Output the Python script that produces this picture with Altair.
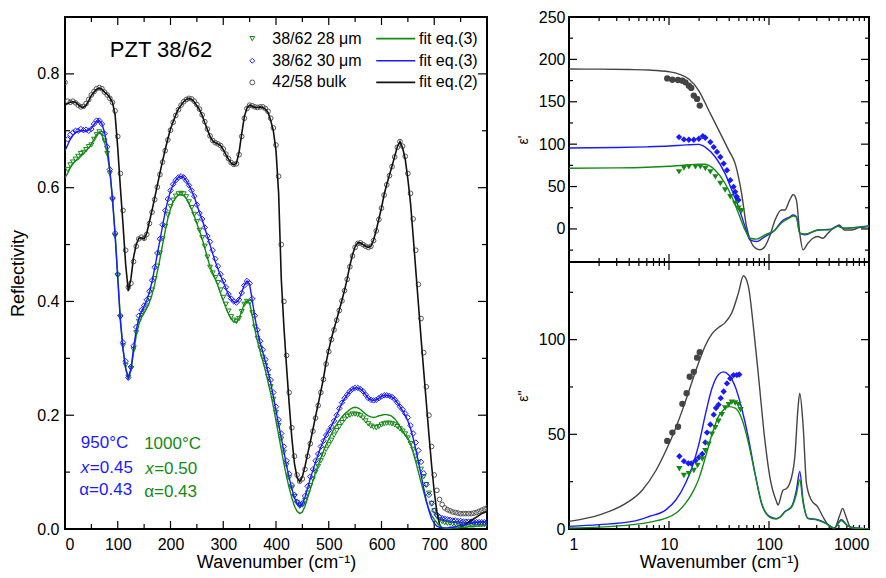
import altair as alt
import pandas as pd

FONT = "Liberation Sans"
GREEN = "#138a13"
BLUE = "#1a1aff"
GREYPT = "#555555"
BLACK = "#111111"
RBLACK = "#444444"

# ---------------- Left panel: reflectivity ----------------
WN_BULK_MEAS = list(range(0, 801, 5))
WN_FILM_MEAS = list(range(5, 801, 5))
WN_FIT = list(range(0, 801, 5))

R_BULK_MEAS = [
    0.785, 0.752, 0.750, 0.752, 0.749, 0.745, 0.742, 0.743, 0.748, 0.755,
    0.763, 0.769, 0.774, 0.776, 0.774, 0.768, 0.763, 0.757, 0.750, 0.735,
    0.690, 0.625, 0.560, 0.490, 0.425, 0.432, 0.470, 0.497, 0.510, 0.513,
    0.511, 0.518, 0.537, 0.557, 0.579, 0.601, 0.623, 0.645, 0.665, 0.684,
    0.701, 0.715, 0.727, 0.737, 0.745, 0.751, 0.755, 0.757, 0.756, 0.752,
    0.746, 0.738, 0.728, 0.716, 0.703, 0.691, 0.683, 0.679, 0.677, 0.674,
    0.668, 0.659, 0.651, 0.644, 0.641, 0.642, 0.658, 0.690, 0.722, 0.739,
    0.745, 0.744, 0.742, 0.741, 0.742, 0.742, 0.739, 0.734, 0.722, 0.705,
    0.675, 0.620, 0.500, 0.400, 0.305, 0.240, 0.178, 0.128, 0.095, 0.084,
    0.088, 0.105, 0.128, 0.150, 0.172, 0.195, 0.217, 0.240, 0.263, 0.290,
    0.312, 0.333, 0.350, 0.367, 0.384, 0.401, 0.419, 0.439, 0.461, 0.480,
    0.495, 0.502, 0.503, 0.500, 0.497, 0.495, 0.497, 0.507, 0.524, 0.544,
    0.564, 0.587, 0.605, 0.621, 0.637, 0.654, 0.671, 0.681, 0.673, 0.655,
    0.625, 0.590, 0.545, 0.490, 0.430, 0.370, 0.310, 0.250, 0.200, 0.145,
    0.095, 0.068, 0.052, 0.043, 0.037, 0.034, 0.032, 0.030, 0.029, 0.028,
    0.027, 0.027, 0.027, 0.027, 0.027, 0.028, 0.029, 0.031, 0.033, 0.035,
    0.037]

R_BULK_FIT = [
    0.745, 0.748, 0.750, 0.751, 0.750, 0.746, 0.742, 0.741, 0.745, 0.753,
    0.762, 0.768, 0.773, 0.775, 0.773, 0.768, 0.764, 0.758, 0.750, 0.728,
    0.670, 0.600, 0.535, 0.465, 0.418, 0.440, 0.478, 0.500, 0.511, 0.512,
    0.510, 0.520, 0.540, 0.560, 0.582, 0.604, 0.626, 0.647, 0.667, 0.686,
    0.703, 0.716, 0.728, 0.738, 0.745, 0.751, 0.755, 0.757, 0.755, 0.751,
    0.744, 0.737, 0.727, 0.714, 0.702, 0.690, 0.682, 0.679, 0.677, 0.674,
    0.667, 0.658, 0.650, 0.643, 0.640, 0.643, 0.662, 0.695, 0.725, 0.740,
    0.745, 0.743, 0.741, 0.741, 0.742, 0.741, 0.738, 0.732, 0.718, 0.700,
    0.665, 0.590, 0.440, 0.355, 0.285, 0.220, 0.160, 0.115, 0.090, 0.083,
    0.092, 0.110, 0.132, 0.153, 0.175, 0.198, 0.220, 0.242, 0.265, 0.293,
    0.315, 0.335, 0.352, 0.368, 0.385, 0.402, 0.420, 0.440, 0.463, 0.482,
    0.496, 0.503, 0.503, 0.500, 0.497, 0.495, 0.497, 0.508, 0.525, 0.545,
    0.565, 0.588, 0.606, 0.622, 0.638, 0.655, 0.672, 0.681, 0.670, 0.650,
    0.615, 0.573, 0.515, 0.455, 0.395, 0.335, 0.278, 0.222, 0.165, 0.112,
    0.065, 0.030, 0.008, 0.000, 0.000, 0.000, 0.000, 0.000, 0.000, 0.000,
    0.003, 0.006, 0.009, 0.012, 0.015, 0.018, 0.021, 0.024, 0.027, 0.029,
    0.031]

R_30_MEAS = [
    0.685, 0.693, 0.697, 0.700, 0.700, 0.703, 0.701, 0.702, 0.700, 0.703,
    0.712, 0.718, 0.718, 0.712, 0.695, 0.672, 0.632, 0.582, 0.520, 0.448,
    0.375, 0.328, 0.295, 0.266, 0.285, 0.322, 0.355, 0.375, 0.385, 0.393,
    0.403, 0.418, 0.437, 0.460, 0.485, 0.510, 0.535, 0.560, 0.580, 0.595,
    0.606, 0.613, 0.618, 0.620, 0.618, 0.612, 0.604, 0.595, 0.585, 0.570,
    0.555, 0.545, 0.530, 0.515, 0.505, 0.490, 0.475, 0.462, 0.448, 0.436,
    0.425, 0.413, 0.405, 0.400, 0.398, 0.403, 0.415, 0.428, 0.436, 0.432,
    0.405, 0.375, 0.350, 0.330, 0.315, 0.298, 0.280, 0.262, 0.240, 0.215,
    0.192, 0.168, 0.145, 0.120, 0.097, 0.077, 0.060, 0.048, 0.042, 0.045,
    0.058, 0.075, 0.092, 0.105, 0.120, 0.132, 0.145, 0.155, 0.165, 0.173,
    0.180, 0.190, 0.200, 0.212, 0.222, 0.230, 0.236, 0.242, 0.246, 0.248,
    0.248, 0.246, 0.242, 0.236, 0.230, 0.227, 0.226, 0.227, 0.230, 0.233,
    0.235, 0.235, 0.234, 0.232, 0.228, 0.222, 0.215, 0.210, 0.203, 0.196,
    0.182, 0.168, 0.152, 0.138, 0.118, 0.098, 0.078, 0.060, 0.045, 0.032,
    0.025, 0.021, 0.019, 0.018, 0.017, 0.016, 0.015, 0.015, 0.014, 0.014,
    0.013, 0.013, 0.013, 0.013, 0.012, 0.012, 0.012, 0.012, 0.012, 0.012]

R_30_FIT = [
    0.665, 0.675, 0.685, 0.692, 0.697, 0.699, 0.700, 0.700, 0.700, 0.701,
    0.704, 0.711, 0.717, 0.718, 0.712, 0.697, 0.672, 0.632, 0.580, 0.515,
    0.440, 0.365, 0.315, 0.282, 0.266, 0.282, 0.318, 0.350, 0.370, 0.382,
    0.392, 0.402, 0.416, 0.435, 0.458, 0.483, 0.508, 0.533, 0.558, 0.578,
    0.594, 0.605, 0.613, 0.618, 0.620, 0.618, 0.612, 0.604, 0.595, 0.584,
    0.570, 0.556, 0.544, 0.529, 0.514, 0.499, 0.484, 0.470, 0.457, 0.445,
    0.434, 0.423, 0.412, 0.404, 0.399, 0.398, 0.404, 0.416, 0.429, 0.436,
    0.430, 0.402, 0.372, 0.347, 0.327, 0.311, 0.294, 0.276, 0.256, 0.233,
    0.208, 0.184, 0.160, 0.136, 0.112, 0.090, 0.071, 0.055, 0.045, 0.040,
    0.044, 0.056, 0.072, 0.089, 0.103, 0.118, 0.131, 0.144, 0.155, 0.165,
    0.173, 0.181, 0.190, 0.200, 0.211, 0.221, 0.229, 0.236, 0.242, 0.246,
    0.248, 0.248, 0.246, 0.242, 0.236, 0.230, 0.227, 0.226, 0.227, 0.230,
    0.233, 0.235, 0.235, 0.234, 0.232, 0.228, 0.222, 0.215, 0.208, 0.200,
    0.190, 0.177, 0.160, 0.140, 0.118, 0.095, 0.072, 0.050, 0.032, 0.018,
    0.010, 0.005, 0.003, 0.002, 0.002, 0.002, 0.003, 0.003, 0.004, 0.005,
    0.006, 0.007, 0.008, 0.009, 0.010, 0.011, 0.012, 0.012, 0.013, 0.013,
    0.013]

R_28_MEAS = [
    0.632, 0.640, 0.645, 0.650, 0.655, 0.660, 0.662, 0.667, 0.672, 0.675,
    0.685, 0.693, 0.698, 0.695, 0.682, 0.660, 0.625, 0.578, 0.515, 0.445,
    0.372, 0.322, 0.288, 0.267, 0.282, 0.315, 0.345, 0.365, 0.375, 0.383,
    0.392, 0.405, 0.420, 0.440, 0.462, 0.485, 0.510, 0.532, 0.552, 0.567,
    0.578, 0.585, 0.589, 0.590, 0.589, 0.584, 0.575, 0.565, 0.553, 0.540,
    0.525, 0.512, 0.497, 0.478, 0.460, 0.450, 0.442, 0.433, 0.420, 0.407,
    0.395, 0.383, 0.373, 0.367, 0.365, 0.370, 0.382, 0.395, 0.400, 0.398,
    0.380, 0.355, 0.335, 0.318, 0.302, 0.287, 0.268, 0.250, 0.228, 0.205,
    0.182, 0.158, 0.135, 0.112, 0.090, 0.072, 0.057, 0.046, 0.040, 0.042,
    0.050, 0.063, 0.076, 0.088, 0.100, 0.110, 0.120, 0.130, 0.140, 0.148,
    0.156, 0.165, 0.173, 0.180, 0.187, 0.193, 0.198, 0.200, 0.202, 0.202,
    0.201, 0.199, 0.195, 0.190, 0.185, 0.181, 0.179, 0.178, 0.180, 0.183,
    0.185, 0.186, 0.186, 0.185, 0.183, 0.180, 0.176, 0.172, 0.167, 0.160,
    0.150, 0.140, 0.128, 0.117, 0.105, 0.092, 0.078, 0.063, 0.045, 0.032,
    0.022, 0.016, 0.013, 0.011, 0.010, 0.010, 0.009, 0.009, 0.009, 0.008,
    0.008, 0.008, 0.008, 0.008, 0.008, 0.008, 0.008, 0.008, 0.008, 0.008]

R_28_FIT = [
    0.617, 0.625, 0.635, 0.642, 0.647, 0.650, 0.655, 0.660, 0.665, 0.670,
    0.676, 0.685, 0.693, 0.697, 0.693, 0.680, 0.660, 0.628, 0.582, 0.520,
    0.445, 0.370, 0.318, 0.283, 0.265, 0.278, 0.310, 0.340, 0.360, 0.372,
    0.380, 0.388, 0.398, 0.412, 0.430, 0.452, 0.475, 0.500, 0.524, 0.546,
    0.563, 0.575, 0.583, 0.587, 0.588, 0.586, 0.581, 0.572, 0.562, 0.550,
    0.537, 0.524, 0.510, 0.494, 0.477, 0.461, 0.450, 0.440, 0.427, 0.414,
    0.401, 0.389, 0.378, 0.369, 0.364, 0.363, 0.370, 0.383, 0.396, 0.401,
    0.397, 0.375, 0.350, 0.330, 0.312, 0.295, 0.278, 0.258, 0.238, 0.215,
    0.190, 0.165, 0.140, 0.115, 0.092, 0.072, 0.055, 0.040, 0.031, 0.027,
    0.030, 0.040, 0.055, 0.070, 0.085, 0.099, 0.112, 0.125, 0.137, 0.148,
    0.158, 0.167, 0.176, 0.184, 0.191, 0.197, 0.202, 0.206, 0.210, 0.213,
    0.214, 0.213, 0.210, 0.206, 0.202, 0.199, 0.197, 0.196, 0.197, 0.199,
    0.200, 0.201, 0.201, 0.200, 0.198, 0.194, 0.188, 0.180, 0.172, 0.166,
    0.160, 0.150, 0.135, 0.118, 0.100, 0.082, 0.065, 0.048, 0.034, 0.024,
    0.017, 0.011, 0.006, 0.003, 0.001, 0.001, 0.001, 0.002, 0.002, 0.002,
    0.003, 0.003, 0.003, 0.004, 0.004, 0.004, 0.005, 0.005, 0.005, 0.006,
    0.006]

LEFT_X_LABELS = [0, 100, 200, 300, 400, 500, 600, 700, 800]
LEFT_Y_LABELS = [0.0, 0.2, 0.4, 0.6, 0.8]

# legend inside the left panel
LEG_LABELS = ["38/62 28 \u03bcm", "38/62 30 \u03bcm", "42/58 bulk"]
LEG_FITS = ["fit eq.(3)", "fit eq.(3)", "fit eq.(2)"]
LEG_Y = [0.862, 0.823, 0.785]

# ---------------- Right panels: dielectric function ----------------
E1_WN_BULK = [1, 2, 4, 6.3, 10, 12.6, 15.8, 19.9, 25, 31.5, 39.6, 45.9, 53.2,
              59.6, 67, 74, 81, 91, 102, 115, 133, 144, 161, 175, 188, 203,
              219, 245, 275, 306, 345, 389, 430, 469, 505, 565, 661, 800, 1000]
E1_BULK_FIT = [188.6, 188.5, 188.0, 187.4, 185.4, 182.7, 176.8, 163.0, 139.7,
               116.2, 92.7, 77.0, 41.9, 2.7, -16.8, -23.0, -24.6, -20.7, -8.0,
               10.6, 22.3, 22.3, 34.0, 40.7, 34.0, -5.0, -24.6, -16.8, -11.0,
               -9.0, -11.0, -5.0, 0.0, 2.7, 4.7, -1.2, -1.2, 1.5, 2.7]
E1_WN_FILM = [1, 3, 6, 10, 15, 19.9, 23, 29, 36.4, 42.5, 49.5, 57.6, 64.5, 75,
              91, 115, 133, 160, 175, 188, 203, 228, 306, 416, 487, 565, 700, 1000]
E1_30_FIT = [95.5, 96.0, 96.8, 97.8, 99.2, 99.8, 96.6, 84.9, 65.3, 45.8, 26.2,
             2.7, -12.9, -14.9, -9.0, -1.2, 8.6, 14.0, 16.4, 14.5, -5.0, -7.0,
             -1.2, -0.4, 3.5, 0.8, 1.5, 3.5]
E1_28_FIT = [71.6, 72.0, 72.8, 74.0, 75.5, 76.5, 76.3, 69.2, 53.6, 38.0, 18.4,
             -1.2, -11.0, -12.0, -7.0, -1.2, 7.0, 13.0, 15.3, 13.7, -5.0, -6.0,
             -1.5, -0.8, 3.0, 0.5, 1.5, 3.0]

E1_WN_BULK_PTS = [9.6, 10.8, 12.3, 13.6, 14.6, 15.8, 16.7, 17.7, 19.1, 20.3]
E1_BULK_PTS = [177.6, 176.0, 175.7, 174.9, 172.9, 169.0, 166.3, 157.3, 153.4, 145.5]
E1_WN_30_PTS = [12.6, 14.1, 15.8, 17.7, 19.9, 21.8, 23.1, 25.9, 28.0, 30.2,
                32.6, 35.2, 38.0, 41.0, 44.2, 45.9, 47.6, 49.5]
E1_30_PTS = [108.4, 105.6, 105.2, 105.2, 106.4, 109.5, 107.6, 102.5, 96.6, 90.8,
             84.9, 77.1, 69.2, 57.5, 49.7, 43.8, 38.0, 34.0]
E1_WN_28_PTS = [12.6, 14.1, 15.8, 18.4, 20.6, 23.1, 25.9, 29.1, 32.6, 36.4,
                41.0, 45.9, 49.5, 53.2]
E1_28_PTS = [67.3, 72.0, 73.2, 73.2, 73.2, 71.2, 67.3, 61.4, 53.6, 45.8, 38.0,
             30.1, 24.3, 21.5]

E2_WN_BULK = [1, 2.02, 3.7, 5.4, 7.4, 9.3, 11.7, 14.6, 17, 19.9,
              23.1, 26.9, 31.3, 36.4, 42.5, 49.5, 55.5, 62.2, 69.7, 78.3,
              91.1, 102, 119, 123, 138, 150, 161, 181, 195, 203,
              219, 237, 265, 306, 345, 403, 451, 505, 545, 588,
              661, 1000]
E2_BULK_FIT = [4.0, 7.5, 13.5, 20.5, 30.9, 41.3, 53.5, 67.4, 77.8, 88.2,
               96.9, 103.0, 106.4, 109.0, 114.2, 124.7, 133.7, 128.1, 107.3, 81.3,
               46.5, 27.4, 14.4, 12.7, 20.5, 21.4, 24.0, 37.8, 63.9, 71.7,
               55.2, 24.0, 15.3, 11.8, 6.6, 1.4, 0.5, 6.6, 10.9, 6.6,
               0.5, 0.0]
E2_WN_FILM = [1, 2, 4.3, 6.3, 9.3, 11.7, 14.6, 17, 19.9, 23.1,
              26.9, 31.3, 35.2, 39.6, 45.9, 53.2, 62.2, 72.5, 84.4, 102,
              118, 130, 144, 168, 188, 203, 219, 245, 306, 369,
              451, 527, 612, 717, 1000]
E2_30_FIT = [1.4, 2.3, 4.0, 6.6, 10.1, 15.3, 24.0, 32.6, 44.8, 60.4,
             74.3, 81.6, 83.0, 81.3, 75.2, 63.9, 48.3, 29.2, 13.5, 6.5,
             5.5, 6.5, 9.2, 11.8, 20.5, 30.4, 15.3, 5.7, 4.9, 3.1,
             0.5, 4.9, 1.7, 0.5, 0.0]
E2_28_FIT = [0.5, 1.0, 2.3, 3.5, 5.7, 8.3, 13.5, 18.8, 26.6, 37.8,
             50.0, 59.5, 63.0, 64.6, 63.8, 58.5, 45.7, 29.2, 13.5, 6.2,
             5.3, 6.3, 9.0, 11.5, 18.5, 26.0, 14.0, 5.5, 4.7, 3.0,
             0.5, 4.5, 1.6, 0.5, 0.0]

E2_WN_BULK_PTS = [9.6, 10.8, 12.3, 13.6, 15.0, 16.1, 17.7, 19.1, 20.3]
E2_BULK_PTS = [46.5, 50.9, 54.0, 66.1, 71.7, 80.4, 83.0, 90.5, 93.4]
E2_WN_30_PTS = [12.7, 14.1, 15.6, 16.7, 18.4, 19.9, 21.5, 23.1, 24.0, 25.9,
                28.0, 29.5, 31.3, 32.9, 35.2, 38.0, 41.0, 44.2, 47.6, 50.4]
E2_30_PTS = [38.4, 35.8, 34.7, 34.7, 36.1, 37.8, 39.6, 45.7, 50.9, 55.2,
             60.4, 63.9, 65.6, 69.1, 72.6, 76.9, 79.5, 81.3, 81.3, 81.6]
E2_WN_28_PTS = [12.7, 14.1, 15.8, 17.7, 19.3, 21.5, 23.1, 24.9, 26.9, 29.0,
                31.3, 33.8, 36.4, 39.6, 42.5, 45.9, 49.5, 52.0]
E2_28_PTS = [31.8, 28.3, 29.2, 30.9, 33.5, 37.0, 41.3, 44.8, 50.0, 53.5,
             56.9, 60.4, 63.9, 65.6, 67.0, 66.5, 65.6, 63.0]

RIGHT_X_LABELS = [1, 10, 100, 1000]
RIGHT_X_MINOR = [2, 3, 4, 5, 6, 7, 8, 9, 20, 30, 40, 50, 60, 70, 80, 90,
                 200, 300, 400, 500, 600, 700, 800, 900]
TOP_Y_LABELS = [0, 50, 100, 150, 200, 250]
BOT_Y_LABELS = [0, 50, 100]

# ---------------- sizes ----------------
W_L, H_L = 422, 512
W_R, H_RT, H_RB = 300, 245, 267

xs_l = alt.Scale(domain=[0, 800], nice=False, zero=False)
ys_l = alt.Scale(domain=[0, 0.9], nice=False, zero=False)
xs_r = alt.Scale(type="log", domain=[1, 1000], nice=False)
ys_t = alt.Scale(domain=[-39, 250], nice=False, zero=False)
ys_b = alt.Scale(domain=[0, 141], nice=False, zero=False)


def frame(x, y):
    return pd.DataFrame({"x": x, "y": y})


def pts(x, y, xs, ys, shape, color, filled, size, sw=1.0):
    return alt.Chart(frame(x, y)).mark_point(
        shape=shape, color=color, filled=filled, size=size, strokeWidth=sw,
        opacity=1, clip=True
    ).encode(x=alt.X("x:Q", scale=xs), y=alt.Y("y:Q", scale=ys))


def curve(x, y, xs, ys, color, sw, interp="linear"):
    return alt.Chart(frame(x, y)).mark_line(
        color=color, strokeWidth=sw, interpolate=interp, clip=True
    ).encode(x=alt.X("x:Q", scale=xs), y=alt.Y("y:Q", scale=ys))


def xticks(vals, xs, H, L):
    d = pd.DataFrame({"x": vals})
    b = alt.Chart(d).mark_rule(color="black", strokeWidth=1.2)
    X = alt.X("x:Q", scale=xs)
    return [b.encode(x=X, y=alt.value(0), y2=alt.value(L)),
            b.encode(x=X, y=alt.value(H), y2=alt.value(H - L))]


def yticks(vals, ys, W, L):
    d = pd.DataFrame({"y": vals})
    b = alt.Chart(d).mark_rule(color="black", strokeWidth=1.2)
    Y = alt.Y("y:Q", scale=ys)
    return [b.encode(y=Y, x=alt.value(0), x2=alt.value(L)),
            b.encode(y=Y, x=alt.value(W - L), x2=alt.value(W))]


def text(x, y, t, xs, ys, color="black", size=16, align="left", style="normal", dx=0):
    d = pd.DataFrame({"x": [x], "y": [y], "t": [t]})
    return alt.Chart(d).mark_text(
        align=align, baseline="middle", font=FONT, fontSize=size, color=color,
        fontStyle=style, dx=dx
    ).encode(x=alt.X("x:Q", scale=xs), y=alt.Y("y:Q", scale=ys), text="t:N")


# ---------------- left chart ----------------
left_axes = alt.Chart(frame([0], [0])).mark_point(opacity=0).encode(
    x=alt.X("x:Q", scale=xs_l, axis=alt.Axis(
        values=LEFT_X_LABELS, title="Wavenumber (cm\u207b\u00b9)", labelPadding=7,
        titlePadding=1)),
    y=alt.Y("y:Q", scale=ys_l, axis=alt.Axis(
        values=LEFT_Y_LABELS, format=".1f", title="Reflectivity", labelPadding=6,
        titlePadding=9)),
)

left_layers = [left_axes]
left_layers += xticks([v for v in range(0, 801, 100)], xs_l, H_L, 8)
left_layers += xticks([v for v in range(50, 800, 100)], xs_l, H_L, 5)
left_layers += yticks(LEFT_Y_LABELS, ys_l, W_L, 9)
left_layers += yticks([0.1, 0.3, 0.5, 0.7], ys_l, W_L, 5)

left_layers += [
    pts(WN_BULK_MEAS, R_BULK_MEAS, xs_l, ys_l, "circle", GREYPT, False, 22, 1.0),
    pts(WN_FILM_MEAS, R_28_MEAS, xs_l, ys_l, "triangle-down", GREEN, False, 24, 1.0),
    pts(WN_FILM_MEAS, R_30_MEAS, xs_l, ys_l, "diamond", BLUE, False, 30, 1.0),
    curve(WN_FIT, R_BULK_FIT, xs_l, ys_l, BLACK, 1.6),
    curve(WN_FIT, R_28_FIT, xs_l, ys_l, GREEN, 1.4),
    curve(WN_FIT, R_30_FIT, xs_l, ys_l, BLUE, 1.4),
]

# legend
leg_shapes = ["triangle-down", "diamond", "circle"]
leg_colors = [GREEN, BLUE, GREYPT]
leg_line_colors = [GREEN, BLUE, BLACK]
for lab, fit, yy, shp, col, lcol in zip(LEG_LABELS, LEG_FITS, LEG_Y, leg_shapes,
                                        leg_colors, leg_line_colors):
    left_layers.append(pts([355], [yy], xs_l, ys_l, shp, col, False, 24, 1.0))
    left_layers.append(text(393, yy, lab, xs_l, ys_l, "black", 16))
    left_layers.append(curve([590, 664], [yy, yy], xs_l, ys_l, lcol, 1.6))
    left_layers.append(text(671, yy, fit, xs_l, ys_l, "black", 16))

left_layers.append(text(85, 0.842, "PZT 38/62", xs_l, ys_l, "black", 22))

# sintering annotations
left_layers += [
    text(30, 0.152, "950\u00b0C", xs_l, ys_l, BLUE, 17),
    text(30, 0.108, "x", xs_l, ys_l, BLUE, 17, style="italic"),
    text(30, 0.108, "=0.45", xs_l, ys_l, BLUE, 17, dx=9),
    text(27, 0.068, "\u03b1=0.43", xs_l, ys_l, BLUE, 17),
    text(150, 0.150, "1000\u00b0C", xs_l, ys_l, GREEN, 17),
    text(152, 0.106, "x", xs_l, ys_l, GREEN, 17, style="italic"),
    text(152, 0.106, "=0.50", xs_l, ys_l, GREEN, 17, dx=9),
    text(150, 0.065, "\u03b1=0.43", xs_l, ys_l, GREEN, 17),
]

left = alt.layer(*left_layers).properties(width=W_L, height=H_L)

# ---------------- right charts ----------------
top_axes = alt.Chart(frame([1], [0])).mark_point(opacity=0).encode(
    x=alt.X("x:Q", scale=xs_r, axis=alt.Axis(labels=False, title="")),
    y=alt.Y("y:Q", scale=ys_t, axis=alt.Axis(
        values=TOP_Y_LABELS, title="\u03b5'", titleFontSize=14, labelPadding=4,
        titlePadding=8)),
)
top_layers = [top_axes]
top_layers += xticks(RIGHT_X_LABELS, xs_r, H_RT, 8)
top_layers += xticks(RIGHT_X_MINOR, xs_r, H_RT, 4)
top_layers += yticks(TOP_Y_LABELS, ys_t, W_R, 8)
top_layers += yticks([-25, 25, 75, 125, 175, 225], ys_t, W_R, 4)
top_layers += [
    curve(E1_WN_BULK, E1_BULK_FIT, xs_r, ys_t, RBLACK, 1.4, "monotone"),
    curve(E1_WN_FILM, E1_30_FIT, xs_r, ys_t, BLUE, 1.4, "monotone"),
    curve(E1_WN_FILM, E1_28_FIT, xs_r, ys_t, GREEN, 1.4, "monotone"),
    pts(E1_WN_BULK_PTS, E1_BULK_PTS, xs_r, ys_t, "circle", RBLACK, True, 40),
    pts(E1_WN_30_PTS, E1_30_PTS, xs_r, ys_t, "diamond", BLUE, True, 40),
    pts(E1_WN_28_PTS, E1_28_PTS, xs_r, ys_t, "triangle-down", GREEN, True, 40),
]
top = alt.layer(*top_layers).properties(width=W_R, height=H_RT)

bot_axes = alt.Chart(frame([1], [0])).mark_point(opacity=0).encode(
    x=alt.X("x:Q", scale=xs_r, axis=alt.Axis(
        values=RIGHT_X_LABELS, format="d", title="Wavenumber (cm\u207b\u00b9)",
        labelPadding=7, titlePadding=1)),
    y=alt.Y("y:Q", scale=ys_b, axis=alt.Axis(
        values=BOT_Y_LABELS, title="\u03b5''", titleFontSize=14, labelPadding=4,
        titlePadding=8)),
)
bot_layers = [bot_axes]
bot_layers += xticks(RIGHT_X_LABELS, xs_r, H_RB, 8)
bot_layers += xticks(RIGHT_X_MINOR, xs_r, H_RB, 4)
bot_layers += yticks(BOT_Y_LABELS, ys_b, W_R, 8)
bot_layers += yticks([25, 75, 125], ys_b, W_R, 4)
bot_layers += [
    curve(E2_WN_BULK, E2_BULK_FIT, xs_r, ys_b, RBLACK, 1.4, "monotone"),
    curve(E2_WN_FILM, E2_30_FIT, xs_r, ys_b, BLUE, 1.4, "monotone"),
    curve(E2_WN_FILM, E2_28_FIT, xs_r, ys_b, GREEN, 1.4, "monotone"),
    pts(E2_WN_BULK_PTS, E2_BULK_PTS, xs_r, ys_b, "circle", RBLACK, True, 40),
    pts(E2_WN_30_PTS, E2_30_PTS, xs_r, ys_b, "diamond", BLUE, True, 40),
    pts(E2_WN_28_PTS, E2_28_PTS, xs_r, ys_b, "triangle-down", GREEN, True, 40),
]
bot = alt.layer(*bot_layers).properties(width=W_R, height=H_RB)

right = alt.vconcat(top, bot, spacing=0, bounds="flush")

chart = alt.hconcat(left, right, spacing=82, bounds="flush").properties(
    padding={"left": 0, "top": 0, "right": 0, "bottom": 0}
).configure_view(
    stroke="black", strokeWidth=2
).configure_axis(
    labelFont=FONT, titleFont=FONT, labelColor="black", titleColor="black",
    labelFontSize=16, titleFontSize=18, titleFontWeight="normal",
    grid=False, ticks=False, domain=False
)

chart.save("out.html", embed_options={"renderer": "svg", "actions": False})
